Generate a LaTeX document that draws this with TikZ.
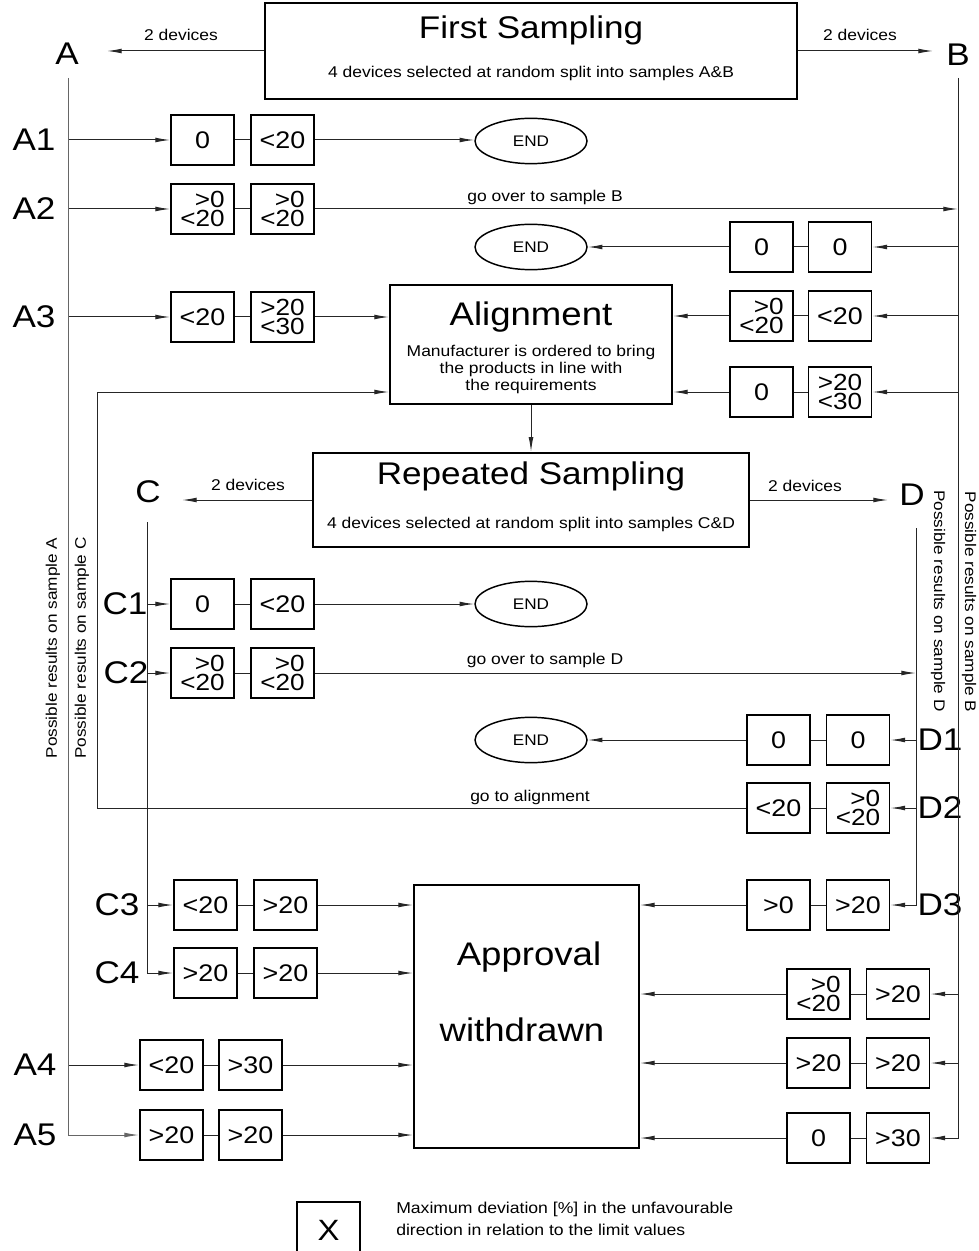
\documentclass[tikz,border=0pt]{standalone}
\usepackage{fontspec}
\setmainfont{Liberation Sans}[FakeStretch=1.12]
\usetikzlibrary{arrows.meta,shapes.geometric}
\newcommand{\myfs}[2]{\fontsize{#1}{#2}\selectfont}
\begin{document}
\begin{tikzpicture}[x=0.75pt,y=-0.75pt,
  vbox/.style={draw, line width=1.4pt, minimum width=47.25pt, minimum height=37.5pt, inner sep=0pt, font=\myfs{18}{20}},
  sbox/.style={vbox, align=right, font=\myfs{17.5}{14}},
  endnode/.style={draw, ellipse, line width=1.1pt, minimum width=84pt, minimum height=34pt, inner sep=0pt, font=\myfs{11.5}{13}},
  arr/.style={-{Latex[length=11pt,width=3.6pt]}},
  ln/.style={line width=0.75pt, draw=black!85},
  lbl/.style={font=\myfs{23.5}{26}, inner sep=0pt},
  small/.style={font=\myfs{11.7}{13}, inner sep=1pt},
  rot/.style={font=\myfs{11.5}{13}, inner sep=0pt},
  title/.style={font=\myfs{23.5}{28}, inner sep=0pt}
]
\path[use as bounding box] (0,0) rectangle (978,1251);

% ---------- First sampling ----------
\node[draw, line width=2.2pt, minimum width=399pt, minimum height=72pt] (fs) at (531,51) {};
\node[title] (fst) at (531,30) {First Sampling};
\node[small] (fss) at (531,73) {4 devices selected at random split into samples A\&B};
\coordinate (Aend) at (107,51);
\coordinate (Bend) at (933,51);
\draw[ln,arr] (fs.west) -- (Aend);
\draw[ln,arr] (fs.east) -- (Bend);
\node[small] (fsl) at (181,35) {2 devices};
\node[small] (fsr) at (860,35) {2 devices};
\node[lbl] (A) at (67,54) {A};
\node[lbl] (B) at (958,55) {B};

\coordinate (Atop) at (68,78);
\coordinate (Btop) at (958,78);

% ---------- A rows ----------
\node[lbl] (A1) at (34,140) {A1};
\node[vbox] (a1b1) at (202.5,140) {0};
\node[vbox] (a1b2) at (282.5,140) {<20};
\node[endnode] (end1) at (531,141) {END};
\draw[ln,arr] (a1b1.west -| Atop) -- (a1b1.west);
\draw[ln] (a1b1) -- (a1b2);
\draw[ln,arr] (a1b2.east) -- (a1b2.east -| end1.west);

\node[lbl] (A2) at (34,209) {A2};
\node[sbox] (a2b1) at (202.5,209) {>0\\<20};
\node[sbox] (a2b2) at (282.5,209) {>0\\<20};
\draw[ln,arr] (a2b1.west -| Atop) -- (a2b1.west);
\draw[ln] (a2b1) -- (a2b2);
\draw[ln,arr] (a2b2.east) -- (a2b2.east -| Btop);
\node[small] (goB) at (545,197) {go over to sample B};

% B1 row
\node[vbox] (b1b1) at (761.5,247) {0};
\node[vbox] (b1b2) at (840,247) {0};
\node[endnode] (end2) at (531,247) {END};
\draw[ln,arr] (b1b2.east -| Btop) -- (b1b2.east);
\draw[ln] (b1b2) -- (b1b1);
\draw[ln,arr] (b1b1.west) -- (end2.east);

% Alignment
\node[draw, line width=1.5pt, minimum width=211.5pt, minimum height=89.25pt] (al) at (531,344.5) {};
\node[font=\myfs{24.5}{28}, inner sep=0pt] (alt) at (531,317) {Alignment};
\node[font=\myfs{11.7}{12.75}, align=center, inner sep=0pt] (als) at (531,369) {Manufacturer is ordered to bring\\the products in line with\\the requirements};

\node[lbl] (A3) at (34,317) {A3};
\node[vbox] (a3b1) at (202.5,317) {<20};
\node[sbox] (a3b2) at (282.5,317) {>20\\<30};
\draw[ln,arr] (a3b1.west -| Atop) -- (a3b1.west);
\draw[ln] (a3b1) -- (a3b2);
\draw[ln,arr] (a3b2.east) -- (a3b2.east -| al.west);

\node[sbox] (b2b1) at (761.5,316) {>0\\<20};
\node[vbox] (b2b2) at (840,316) {<20};
\draw[ln,arr] (b2b2.east -| Btop) -- (b2b2.east);
\draw[ln] (b2b2) -- (b2b1);
\draw[ln,arr] (b2b1.west) -- (b2b1.west -| al.east);

\node[vbox] (b3b1) at (761.5,392) {0};
\node[sbox] (b3b2) at (840,392) {>20\\<30};
\draw[ln,arr] (b3b2.east -| Btop) -- (b3b2.east);
\draw[ln] (b3b2) -- (b3b1);
\draw[ln,arr] (b3b1.west) -- (b3b1.west -| al.east);

% ---------- Repeated sampling ----------
\node[draw, line width=1.8pt, minimum width=327pt, minimum height=70.5pt] (rs) at (531,500) {};
\node[title] (rst) at (531,476) {Repeated Sampling};
\node[small] (rss) at (531,524) {4 devices selected at random split into samples C\&D};
\draw[ln,arr] (al.south) -- (rs.north);
\coordinate (Cend) at (182,500);
\coordinate (Dend) at (888,500);
\draw[ln,arr] (rs.west) -- (Cend);
\draw[ln,arr] (rs.east) -- (Dend);
\node[small] (rsl) at (248,485) {2 devices};
\node[small] (rsr) at (805,486) {2 devices};
\node[lbl] (C) at (148,492) {C};
\node[lbl] (D) at (912,495) {D};
\coordinate (Ctop) at (147,522);
\coordinate (Dtop) at (916,528);

% C rows
\node[lbl] (C1) at (125,604) {C1};
\node[vbox] (c1b1) at (202.5,604) {0};
\node[vbox] (c1b2) at (282.5,604) {<20};
\node[endnode] (end3) at (531,604) {END};
\draw[ln,arr] (c1b1.west -| Ctop) -- (c1b1.west);
\draw[ln] (c1b1) -- (c1b2);
\draw[ln,arr] (c1b2.east) -- (end3.west);

\node[lbl] (C2) at (126,673) {C2};
\node[sbox] (c2b1) at (202.5,673) {>0\\<20};
\node[sbox] (c2b2) at (282.5,673) {>0\\<20};
\draw[ln,arr] (c2b1.west -| Ctop) -- (c2b1.west);
\draw[ln] (c2b1) -- (c2b2);
\draw[ln,arr] (c2b2.east) -- (c2b2.east -| Dtop);
\node[small] (goD) at (545,660) {go over to sample D};

% D rows
\node[lbl] (D1) at (940,740) {D1};
\node[vbox] (d1b1) at (778.5,740) {0};
\node[vbox] (d1b2) at (858,740) {0};
\node[endnode] (end4) at (531,740) {END};
\draw[ln,arr] (d1b2.east -| Dtop) -- (d1b2.east);
\draw[ln] (d1b2) -- (d1b1);
\draw[ln,arr] (d1b1.west) -- (end4.east);

\node[lbl] (D2) at (940,808) {D2};
\node[vbox] (d2b1) at (778.5,808) {<20};
\node[sbox] (d2b2) at (858,808) {>0\\<20};
\draw[ln,arr] (d2b2.east -| Dtop) -- (d2b2.east);
\draw[ln] (d2b2) -- (d2b1);
\coordinate (galeft) at (97,808);
\draw[ln,arr] (d2b1.west) -- (galeft) |- (al.west |- b3b1.west);
\node[small] (goA) at (530,797) {go to alignment};

% ---------- Approval ----------
\node[draw, line width=1.5pt, minimum width=168.75pt, minimum height=197.25pt] (ap) at (526.5,1016.5) {};
\node[font=\myfs{24.5}{28}, inner sep=0pt] (apt1) at (529,957) {Approval};
\node[font=\myfs{24.5}{28}, inner sep=0pt] (apt2) at (522,1030) {withdrawn};

\node[lbl] (C3) at (117,905) {C3};
\node[vbox] (c3b1) at (205.5,905) {<20};
\node[vbox] (c3b2) at (285.5,905) {>20};
\draw[ln,arr] (c3b1.west -| Ctop) -- (c3b1.west);
\draw[ln] (c3b1) -- (c3b2);
\draw[ln,arr] (c3b2.east) -- (c3b2.east -| ap.west);

\node[lbl] (C4) at (117,973) {C4};
\node[vbox] (c4b1) at (205.5,973) {>20};
\node[vbox] (c4b2) at (285.5,973) {>20};
\draw[ln,arr] (Ctop) |- (c4b1.west);
\draw[ln] (c4b1) -- (c4b2);
\draw[ln,arr] (c4b2.east) -- (c4b2.east -| ap.west);

\node[lbl] (A4) at (35,1065) {A4};
\node[vbox] (a4b1) at (171.5,1065) {<20};
\node[vbox] (a4b2) at (250.5,1065) {>30};
\draw[ln,arr] (a4b1.west -| Atop) -- (a4b1.west);
\draw[ln] (a4b1) -- (a4b2);
\draw[ln,arr] (a4b2.east) -- (a4b2.east -| ap.west);

\node[lbl] (A5) at (35,1135) {A5};
\node[vbox] (a5b1) at (171.5,1135) {>20};
\node[vbox] (a5b2) at (250.5,1135) {>20};
\draw[ln,arr,draw=black!60] (Atop) |- (a5b1.west);
\draw[ln] (a5b1) -- (a5b2);
\draw[ln,arr] (a5b2.east) -- (a5b2.east -| ap.west);

\node[lbl] (D3) at (940,905) {D3};
\node[vbox] (d3b1) at (778.5,905) {>0};
\node[vbox] (d3b2) at (858,905) {>20};
\draw[ln,arr] (Dtop) |- (d3b2.east);
\draw[ln] (d3b2) -- (d3b1);
\draw[ln,arr] (d3b1.west) -- (d3b1.west -| ap.east);

\node[sbox] (b4b1) at (818.5,994) {>0\\<20};
\node[vbox] (b4b2) at (898,994) {>20};
\draw[ln,arr] (b4b2.east -| Btop) -- (b4b2.east);
\draw[ln] (b4b2) -- (b4b1);
\draw[ln,arr] (b4b1.west) -- (b4b1.west -| ap.east);

\node[vbox] (b5b1) at (818.5,1063) {>20};
\node[vbox] (b5b2) at (898,1063) {>20};
\draw[ln,arr] (b5b2.east -| Btop) -- (b5b2.east);
\draw[ln] (b5b2) -- (b5b1);
\draw[ln,arr] (b5b1.west) -- (b5b1.west -| ap.east);

\node[vbox] (b6b1) at (818.5,1138) {0};
\node[vbox] (b6b2) at (898,1138) {>30};
\draw[ln,arr] (Btop) |- (b6b2.east);
\draw[ln] (b6b2) -- (b6b1);
\draw[ln,arr] (b6b1.west) -- (b6b1.west -| ap.east);

% ---------- rotated labels ----------
\node[rot, rotate=90] (pa) at (53,648) {Possible results on sample A};
\node[rot, rotate=90] (pc) at (82,648) {Possible results on sample C};
\node[rot, rotate=-90] (pd) at (938,601) {Possible results on sample D};
\node[rot, rotate=-90] (pb) at (969,602) {Possible results on sample B};

% ---------- legend ----------
\node[draw, line width=1.4pt, minimum width=47.25pt, minimum height=42pt, inner sep=0pt, font=\myfs{22}{24}] (xb) at (328.5,1230) {X};
\node[font=\myfs{11.8}{16.5}, anchor=west, align=left, inner sep=0pt] (leg) at (396,1219) {Maximum deviation [\%] in the unfavourable\\direction in relation to the limit values};
\end{tikzpicture}
\end{document}
